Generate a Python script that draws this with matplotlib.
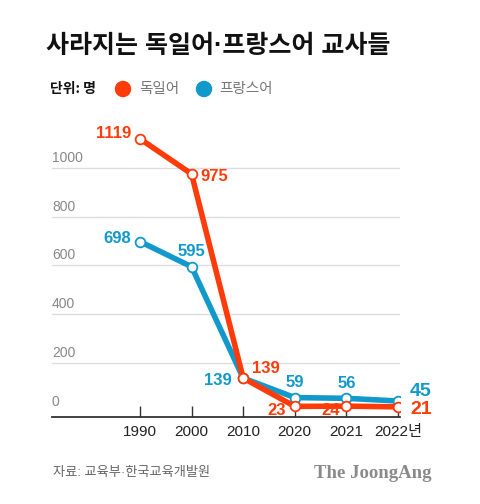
import matplotlib
matplotlib.use('Agg')
import matplotlib.pyplot as plt
from matplotlib.patches import Circle
from matplotlib.transforms import blended_transform_factory

plt.rcParams['font.family'] = ['Liberation Sans', 'Noto Sans CJK KR', 'DejaVu Sans']

# 데이터
years = ['1990', '2000', '2010', '2020', '2021', '2022년']
german = [1119, 975, 139, 23, 24, 21]
french = [698, 595, 139, 59, 56, 45]
grid_vals = [200, 400, 600, 800, 1000]
ytick_vals = [0, 200, 400, 600, 800, 1000]

RED = '#FF3B0A'
BLUE = '#1199CC'
KR = ['Noto Sans CJK KR', 'DejaVu Sans']

W, H = 480, 504
fig = plt.figure(figsize=(4.8, 5.04), dpi=100)
fig.patch.set_facecolor('white')

# 제목 / 범례 / 출처 (픽셀 좌표)
over = fig.add_axes([0, 0, 1, 1])
over.set_xlim(0, W)
over.set_ylim(H, 0)
over.axis('off')

# 가운뎃점은 좁은 라틴 글꼴로
over.text(46, 46, '사라지는 독일어·프랑스어 교사들', fontsize=18, fontweight='heavy',
          family=['Liberation Sans', 'Noto Sans CJK KR'], va='center', ha='left',
          color='#111111')

over.text(50, 89, '단위: 명', fontsize=10, fontweight='bold', family=KR,
          va='center', ha='left', color='#111111')
over.add_patch(Circle((123, 89), 7.5, color=RED))
over.text(139, 89, '독일어', fontsize=10.5, family=KR, va='center', ha='left', color='#777777')
over.add_patch(Circle((204, 89), 7.5, color=BLUE))
over.text(219, 89, '프랑스어', fontsize=10.5, family=KR, va='center', ha='left', color='#777777')

over.text(53, 473, '자료: 교육부·한국교육개발원', fontsize=9.5,
          family=['Liberation Sans', 'Noto Sans CJK KR'], va='center', ha='left', color='#666666')
over.text(432, 473, 'The JoongAng', fontsize=13.5, fontweight='bold',
          family=['Liberation Serif'], va='center', ha='right', color='#8a8a8a')

# 차트
ax = fig.add_axes([52 / W, (H - 417) / H, 348 / W, (417 - 119) / H])
ax.set_facecolor('none')
ax.set_xlim(-1.705, 5.04)
ax.set_ylim(-20.5, 1200)

for v in grid_vals:
    ax.axhline(v, color='#dddddd', lw=1, zorder=0)

trans = blended_transform_factory(ax.transAxes, ax.transData)
for v in ytick_vals:
    ax.annotate(str(v), (0, v), xycoords=trans, xytext=(0, 10), textcoords='offset pixels',
                ha='left', va='center', fontsize=10, color='#888888')

for s in ['top', 'left', 'right']:
    ax.spines[s].set_visible(False)
ax.spines['bottom'].set_color('#333333')
ax.spines['bottom'].set_linewidth(1.3)
ax.set_yticks([])
x = list(range(len(years)))
ax.set_xticks(x)
ax.set_xticklabels(years, fontsize=11, color='#222222')
ax.tick_params(axis='x', direction='in', length=8, width=1, color='#333333', pad=6)

ax.plot(x, french, color=BLUE, lw=4, marker='o', ms=7, mfc='white', mec=BLUE, mew=1.3,
        zorder=3, solid_joinstyle='round')
ax.plot(x, german, color=RED, lw=4, marker='o', ms=7, mfc='white', mec=RED, mew=1.3,
        zorder=4, solid_joinstyle='round')

# 값 라벨
def label(i, v, color, dx, dy, ha, size=12, z=5):
    ax.annotate(str(v), (i, v), xytext=(dx, -dy), textcoords='offset pixels',
                ha=ha, va='center', fontsize=size, fontweight='bold', color=color,
                zorder=z, annotation_clip=False)

label(0, german[0], RED, -9, -5, 'right')
label(1, german[1], RED, 9, 3, 'left')
label(2, german[2], RED, 9, -10, 'left')
label(3, german[3], RED, -9, 4, 'right')
label(4, german[4], RED, -6, 4, 'right', z=2)
label(5, german[5], RED, 12, 3, 'left', size=14)

label(0, french[0], BLUE, -9, -3, 'right')
label(1, french[1], BLUE, 0, -15, 'center')
label(2, french[2], BLUE, -11, 2, 'right')
label(3, french[3], BLUE, 0, -15, 'center')
label(4, french[4], BLUE, 0, -15, 'center')
label(5, french[5], BLUE, 12, -10, 'left', size=14)

fig.savefig('out.png', dpi=100, facecolor='white')
